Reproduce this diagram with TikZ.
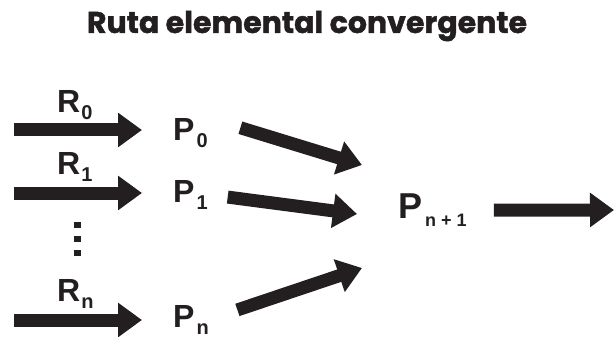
\documentclass[tikz,border=0pt]{standalone}
\usepackage{fontspec}
\setmainfont{Liberation Sans}
\newfontfamily\titlefont{Poppins}[BoldFeatures={FakeBold=1.5}]
\usepackage{tikz}
\usetikzlibrary{positioning, arrows.meta}
\usepackage{xcolor}
\definecolor{ink}{RGB}{35,31,32}

% letter with a lowered index
\newcommand{\lowidx}[3]{#1\kern#3\raisebox{-7pt}{\fontsize{20}{20}\selectfont #2}}

\begin{document}
\begin{tikzpicture}[
        x=1pt, y=-1pt,
        lbl/.style={
            inner sep=0pt,
            anchor=base west,
            text=ink,
            font=\fontsize{32}{32}\selectfont\bfseries
        },
        biglbl/.style={
            inner sep=0pt,
            anchor=base west,
            text=ink,
            font=\fontsize{36}{36}\selectfont\bfseries
        },
        fat/.style={
            -{Triangle[length=24pt, width=33pt]},
            line width=13pt,
            draw=ink
        }
    ]

        \useasboundingbox (0,0) rectangle (614,337);

        \node[text=ink, font=\titlefont\fontsize{30}{30}\selectfont\bfseries] (title) at (307,26) {Ruta elemental convergente};

        \node[lbl] (r0) at (57,113) {\lowidx{R}{0}{1pt}};
        \node[lbl] (r1) at (57,175) {\lowidx{R}{1}{1pt}};
        \node[lbl] (rn) at (57,301) {\lowidx{R}{n}{1pt}};

        \node[lbl] (p0) at (173,140) {\lowidx{P}{0}{2pt}};
        \node[lbl] (p1) at (173,202) {\lowidx{P}{1}{2pt}};
        \node[lbl] (pn) at (173,327) {\lowidx{P}{n}{2pt}};

        \node[biglbl] (pnext) at (398,218) {P\kern3pt\raisebox{-9pt}{\fontsize{18}{18}\selectfont n + 1}};

        \coordinate (in0) at (14,130);
        \coordinate (in1) at (14,193);
        \coordinate (inn) at (14,320);
        \coordinate (j0) at (362,165);
        \coordinate (j1) at (357,214);
        \coordinate (jn) at (362,268);
        \coordinate (out) at (614,210);

        \draw[fat, shorten >=31pt] (in0) -- (in0 -| p0.west);
        \draw[fat, shorten >=31pt] (in1) -- (in1 -| p1.west);
        \draw[fat, shorten >=31pt] (inn) -- (inn -| pn.west);

        \draw[fat, shorten <=34pt] (p0.north east) -- (j0);
        \draw[fat, shorten <=20pt] (p1.east) -- (j1);
        \draw[fat, shorten <=30pt] (pn.east) -- (jn);

        \draw[fat, shorten <=27pt] (pnext) -- (out);

        \foreach \y in {225,239,253}
            \fill[ink] (74,\y-3) rectangle +(7,6);

    \end{tikzpicture}
\end{document}
